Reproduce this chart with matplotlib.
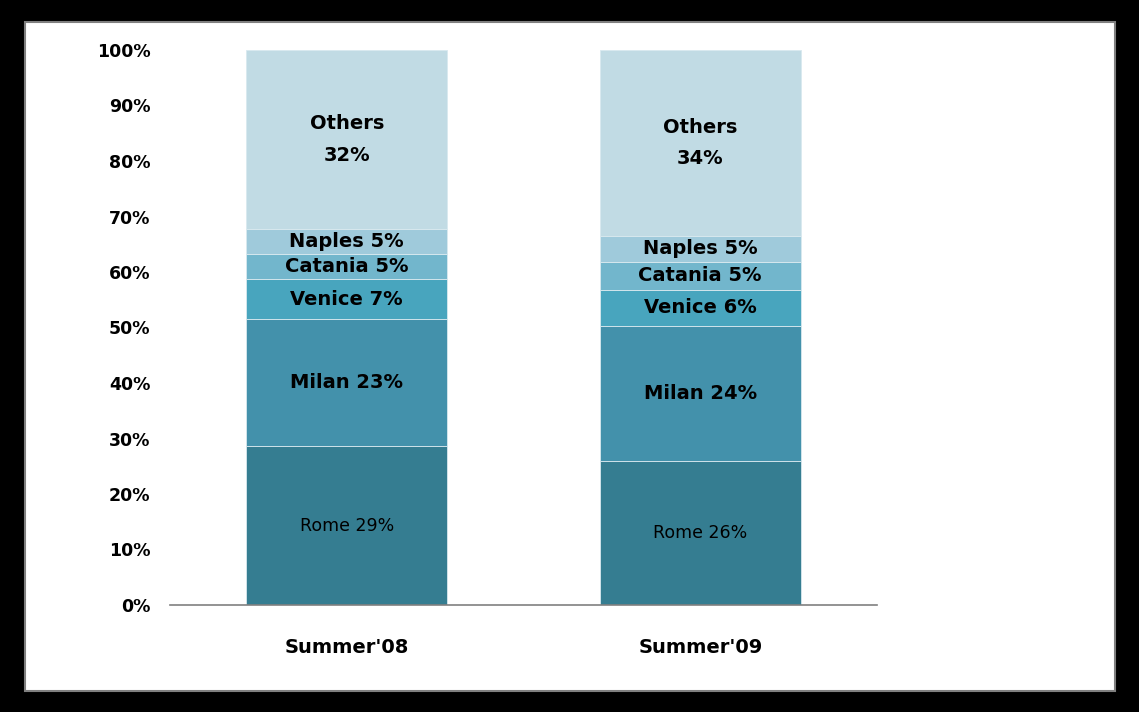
import matplotlib.pyplot as plt
from matplotlib.patches import Rectangle
from matplotlib.ticker import FuncFormatter

# data (share of total, %)
periods = ["Summer'08", "Summer'09"]
cities = ["Rome", "Milan", "Venice", "Catania", "Naples", "Others"]
rome = [28.6, 25.9]
milan = [22.9, 24.4]
venice = [7.2, 6.5]
catania = [4.5, 5.0]
naples = [4.5, 4.7]
others = [32.3, 33.5]
labels_08 = ["Rome 29%", "Milan 23%", "Venice 7%", "Catania 5%", "Naples 5%", "Others\n32%"]
labels_09 = ["Rome 26%", "Milan 24%", "Venice 6%", "Catania 5%", "Naples 5%", "Others\n34%"]

colors = ["#357d91", "#4391ab", "#48a5be", "#72b6cc", "#9fcadb", "#c1dbe4"]

fig = plt.figure(figsize=(11.39, 7.12), dpi=100, facecolor="black")
# white panel with grey edge
fig.patches.append(Rectangle((25 / 1139, 1 - 691 / 712), 1090 / 1139, 669 / 712,
                             transform=fig.transFigure, facecolor="white",
                             edgecolor="#808080", linewidth=1.5, zorder=-1))

ax = fig.add_axes([170 / 1139, 1 - 605 / 712, 707 / 1139, 555 / 712])
ax.set_facecolor("none")

series = [rome, milan, venice, catania, naples, others]
x = [0, 1]
bottom = [0, 0]
for vals, col in zip(series, colors):
    ax.bar(x, vals, width=0.57, bottom=bottom, color=col,
           edgecolor="#d9e9ef", linewidth=0.6)
    bottom = [b + v for b, v in zip(bottom, vals)]

# segment labels
for xi, labels in zip(x, [labels_08, labels_09]):
    base = 0
    for i, (vals, lab) in enumerate(zip(series, labels)):
        mid = base + vals[xi] / 2
        if i == 0:
            ax.text(xi, mid, lab, ha="center", va="center", fontsize=12.5,
                    color="black")
        else:
            ax.text(xi, mid, lab, ha="center", va="center", fontsize=14,
                    fontweight="bold", color="black", linespacing=1.85)
        base += vals[xi]

ax.set_xlim(-0.5, 1.5)
ax.set_ylim(0, 100)
ax.set_yticks(range(0, 101, 10))
ax.yaxis.set_major_formatter(FuncFormatter(lambda v, p: f"{int(v)}%"))
ax.set_xticks(x)
ax.set_xticklabels(periods)

for s in ["top", "right", "left"]:
    ax.spines[s].set_visible(False)
ax.spines["bottom"].set_color("#808080")
ax.spines["bottom"].set_linewidth(1.2)

ax.tick_params(axis="y", length=0, pad=14, labelsize=12.5)
ax.tick_params(axis="x", length=0, pad=24, labelsize=14)
for t in ax.get_yticklabels() + ax.get_xticklabels():
    t.set_fontweight("bold")

fig.savefig("out.png", dpi=100, facecolor="black")
